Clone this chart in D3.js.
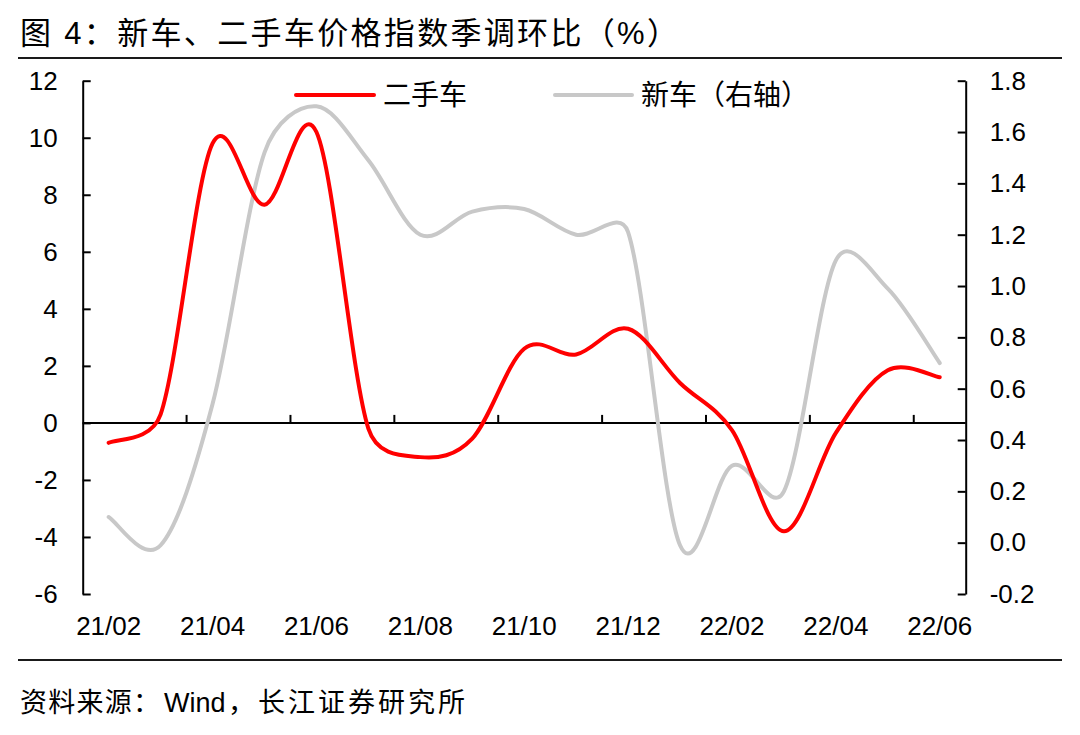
<!DOCTYPE html>
<html>
<head>
<meta charset="utf-8">
<script src="https://cdn.jsdelivr.net/npm/d3@7"></script>
<style>
  html, body { margin: 0; padding: 0; background: #fff; }
  svg { display: block; }
  text { font-family: "Liberation Sans", Arial, "Noto Sans CJK SC", sans-serif; fill: #000; }
  .cjk { font-family: "Liberation Sans", "Noto Sans CJK SC", sans-serif; }
</style>
</head>
<body>
<svg id="chart" width="1080" height="735"></svg>
<script>
// ---- data ----
const categories = ["21/02","21/03","21/04","21/05","21/06","21/07","21/08","21/09","21/10","21/11","21/12","22/01","22/02","22/03","22/04","22/05","22/06"];
const usedCar = [-0.7, 0.3, 9.8, 7.65, 10.2, -0.2, -1.2, -0.55, 2.6, 2.4, 3.3, 1.4, -0.25, -3.8, -0.35, 1.85, 1.6];
const newCar = [0.10, -0.01, 0.54, 1.52, 1.70, 1.49, 1.20, 1.29, 1.30, 1.20, 1.21, -0.01, 0.30, 0.20, 1.10, 0.99, 0.70];
const leftTicks = [-6, -4, -2, 0, 2, 4, 6, 8, 10, 12];
const rightTicks = [-0.2, 0.0, 0.2, 0.4, 0.6, 0.8, 1.0, 1.2, 1.4, 1.6, 1.8];
const xLabels = ["21/02","21/04","21/06","21/08","21/10","21/12","22/02","22/04","22/06"];
const seriesNames = ["二手车", "新车（右轴）"];
const titleText = "图 4：新车、二手车价格指数季调环比（%）";
const sourceParts = ["资料来源：", "Wind", "，长江证券研究所"];

// ---- spreadsheet-style smoothed curve (Bezier, handles clamped to half segment) ----
function smoothCurve(context) {
  let pts = [];
  return {
    areaStart() {}, areaEnd() {},
    lineStart() { pts = []; },
    point(x, y) { pts.push([+x, +y]); },
    lineEnd() {
      const n = pts.length;
      if (!n) return;
      context.moveTo(pts[0][0], pts[0][1]);
      const f = 1 / 6;
      const dist = (a, b) => Math.hypot(b[0] - a[0], b[1] - a[1]);
      for (let i = 0; i < n - 1; i++) {
        const p0 = pts[Math.max(i - 1, 0)], p1 = pts[i], p2 = pts[i + 1], p3 = pts[Math.min(i + 2, n - 1)];
        const d02 = dist(p0, p2), d12 = dist(p1, p2), d13 = dist(p1, p3);
        let f1 = f, f2 = f;
        if (d02 > 0 && f * d02 > d12 / 2) f1 = d12 / (2 * d02);
        if (d13 > 0 && f * d13 > d12 / 2) f2 = d12 / (2 * d13);
        const c1 = [p1[0] + f1 * (p2[0] - p0[0]), p1[1] + f1 * (p2[1] - p0[1])];
        const c2 = [p2[0] - f2 * (p3[0] - p1[0]), p2[1] - f2 * (p3[1] - p1[1])];
        context.bezierCurveTo(c1[0], c1[1], c2[0], c2[1], p2[0], p2[1]);
      }
    }
  };
}

// ---- layout ----
const svg = d3.select("#chart");
const plotL = 82.7, plotR = 965.7, plotT = 80.7, plotB = 594;

const x = d3.scaleBand().domain(categories).range([plotL, plotR]).padding(0);
const yL = d3.scaleLinear().domain([-6, 12]).range([plotB, plotT]);
const yR = d3.scaleLinear().domain([-0.2, 1.8]).range([plotB, plotT]);
const cx = d => x(d) + x.bandwidth() / 2;
const hyphen = f => d => f(d).replace("\u2212", "-");

svg.append("rect").attr("width", 1080).attr("height", 735).attr("fill", "#fff");

// title
svg.append("text").attr("class", "cjk")
  .attr("x", 20).attr("y", 44)
  .attr("font-size", 31)
  .attr("textLength", 658).attr("lengthAdjust", "spacing")
  .text(titleText);
svg.append("line").attr("x1", 18).attr("x2", 1062).attr("y1", 58).attr("y2", 58)
  .attr("stroke", "#1a1a1a").attr("stroke-width", 2);

// bottom rule + source
svg.append("line").attr("x1", 18).attr("x2", 1062).attr("y1", 660).attr("y2", 660)
  .attr("stroke", "#1a1a1a").attr("stroke-width", 2);
const src = svg.append("text").attr("class", "cjk").attr("y", 712).attr("font-size", 27);
src.append("tspan").attr("x", 20).attr("textLength", 140).attr("lengthAdjust", "spacing").text(sourceParts[0]);
src.append("tspan").attr("x", 164).text(sourceParts[1]);
src.append("tspan").attr("x", 228).attr("textLength", 237).attr("lengthAdjust", "spacing").text(sourceParts[2]);

// left axis
const axL = svg.append("g").attr("transform", `translate(${plotL},0)`)
  .call(d3.axisLeft(yL).tickValues(leftTicks).tickFormat(hyphen(d3.format("d")))
    .tickSizeInner(-8).tickSizeOuter(0).tickPadding(25));
// right axis
const axR = svg.append("g").attr("transform", `translate(${plotR},0)`)
  .call(d3.axisRight(yR).tickValues(rightTicks).tickFormat(hyphen(d3.format(".1f")))
    .tickSizeInner(-8).tickSizeOuter(0).tickPadding(24));
[axL, axR].forEach(g => {
  g.selectAll(".domain").attr("stroke", "#000").attr("stroke-width", 2);
  g.selectAll(".tick line").attr("stroke", "#000").attr("stroke-width", 2);
  g.selectAll(".tick text").attr("font-size", 26).attr("font-family", "Liberation Sans, Arial, sans-serif").attr("fill", "#000");
});

// category labels at bottom
const axB = svg.append("g").attr("transform", `translate(0,${plotB})`)
  .call(d3.axisBottom(x).tickValues(xLabels).tickSize(0).tickPadding(23));
axB.select(".domain").remove();
axB.selectAll(".tick text").attr("font-size", 26).attr("font-family", "Liberation Sans, Arial, sans-serif").attr("fill", "#000");

// zero line with boundary ticks
const y0 = yL(0);
svg.append("line").attr("x1", plotL).attr("x2", plotR).attr("y1", y0).attr("y2", y0)
  .attr("stroke", "#000").attr("stroke-width", 2);
const boundaryCats = categories.filter((c, i) => i >= 2 && i % 2 === 0);
svg.append("g").selectAll("line").data(boundaryCats).join("line")
  .attr("x1", d => x(d)).attr("x2", d => x(d))
  .attr("y1", y0).attr("y2", y0 - 8)
  .attr("stroke", "#000").attr("stroke-width", 2);

// lines
const lineNew = d3.line().x((d, i) => cx(categories[i])).y(d => yR(d)).curve(smoothCurve);
const lineUsed = d3.line().x((d, i) => cx(categories[i])).y(d => yL(d)).curve(smoothCurve);

svg.append("path").datum(newCar).attr("d", lineNew)
  .attr("fill", "none").attr("stroke", "#c8c8c8").attr("stroke-width", 4)
  .attr("stroke-linejoin", "round").attr("stroke-linecap", "round");
svg.append("path").datum(usedCar).attr("d", lineUsed)
  .attr("fill", "none").attr("stroke", "#ff0000").attr("stroke-width", 4)
  .attr("stroke-linejoin", "round").attr("stroke-linecap", "round");

// legend
const legend = [
  {name: seriesNames[0], color: "#ff0000", x1: 296, x2: 374, tx: 383},
  {name: seriesNames[1], color: "#c8c8c8", x1: 555, x2: 632, tx: 641}
];
const lg = svg.append("g");
lg.selectAll("line").data(legend).join("line")
  .attr("x1", d => d.x1).attr("x2", d => d.x2).attr("y1", 95).attr("y2", 95)
  .attr("stroke", d => d.color).attr("stroke-width", 4).attr("stroke-linecap", "round");
lg.selectAll("text").data(legend).join("text").attr("class", "cjk")
  .attr("x", d => d.tx).attr("y", 105).attr("font-size", 28)
  .text(d => d.name);
</script>
</body>
</html>
